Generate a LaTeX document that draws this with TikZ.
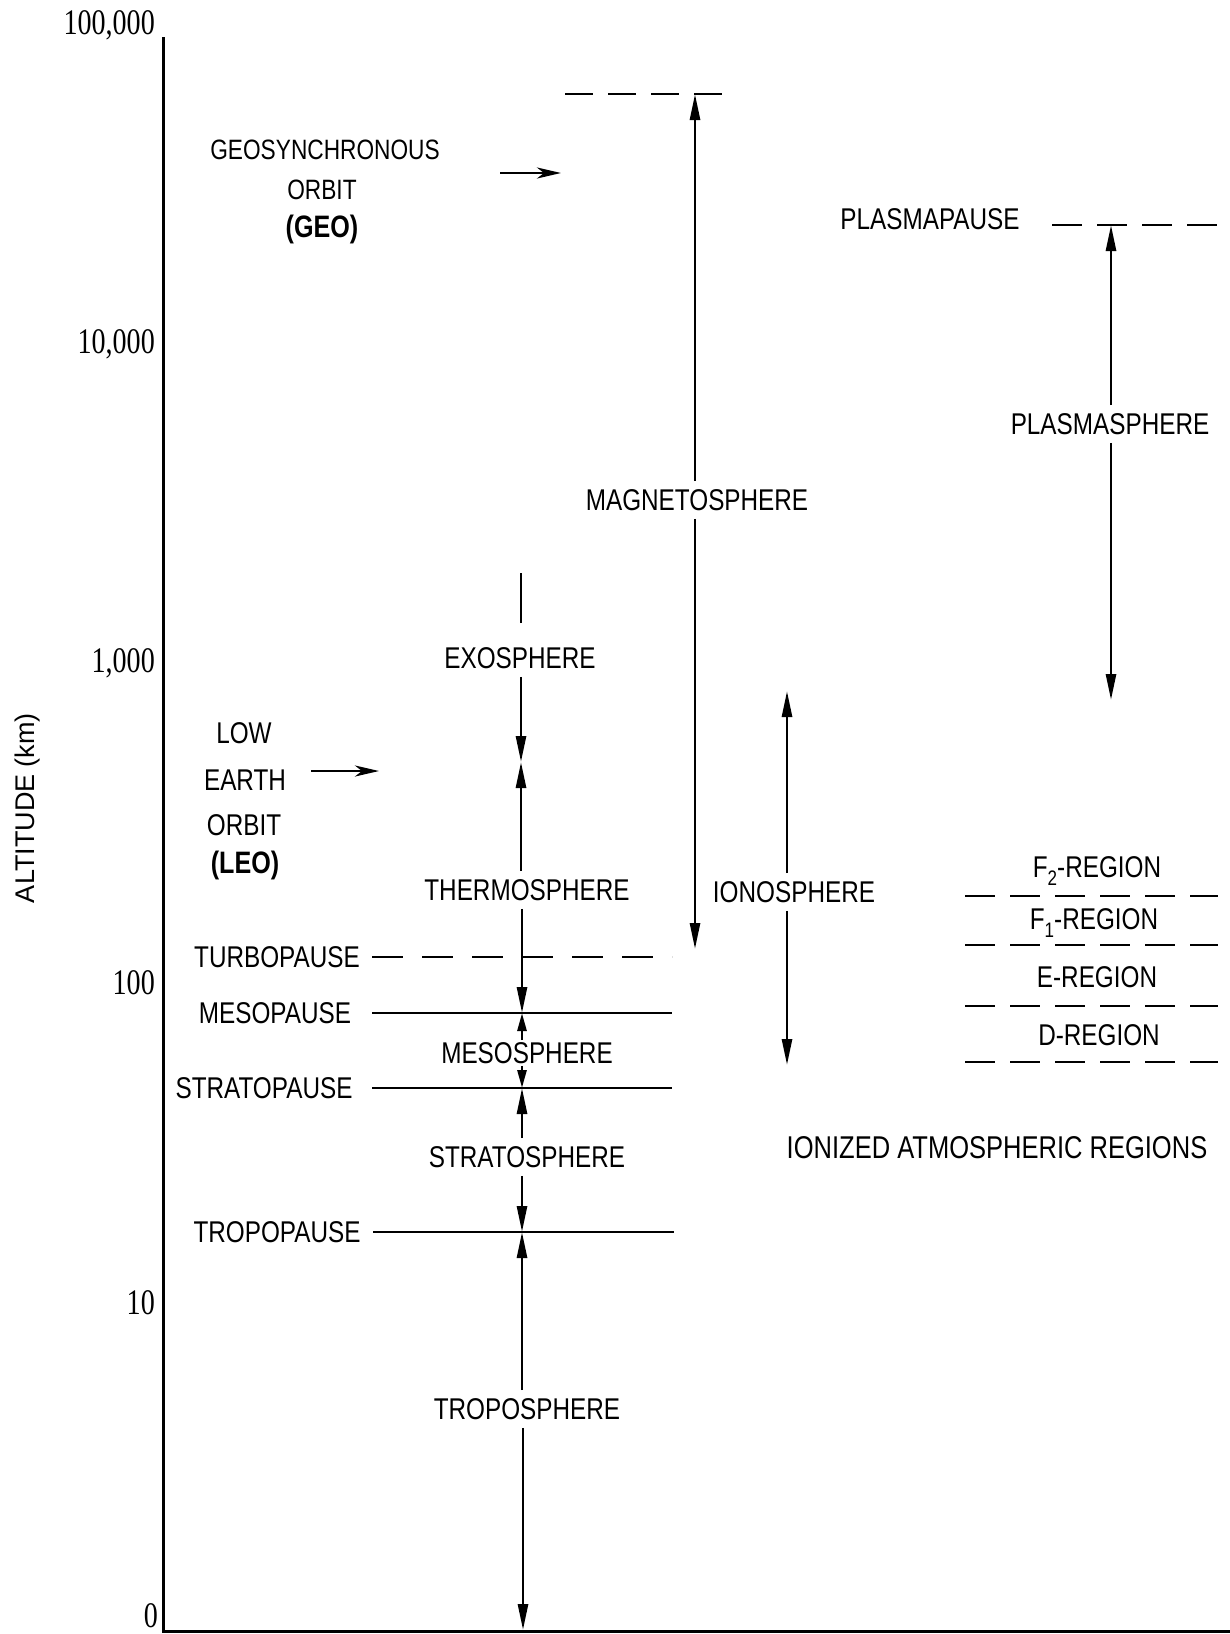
\documentclass[tikz,border=0pt]{standalone}
\usepackage{fontspec}
\setmainfont{Liberation Sans}[FakeStretch=0.81]
\newfontfamily\numfont{Liberation Serif}[FakeStretch=0.78]
\newfontfamily\plainsans{Liberation Sans}
\usetikzlibrary{arrows.meta}
\begin{document}
\begin{tikzpicture}[x=1pt,y=-1pt,
  lbl/.style={font=\fontsize{30}{34}\selectfont, inner xsep=3pt, inner ysep=8pt, align=center},
  glbl/.style={font=\fontsize{28}{32}\selectfont, inner sep=2pt},
  bld/.style={font=\fontsize{31}{35}\selectfont\bfseries, inner sep=2pt},
  num/.style={font=\numfont\fontsize{36}{36}\selectfont, anchor=east, inner sep=0pt},
  ln/.style={line width=2.7pt},
  dsh/.style={line width=2.7pt, dash pattern=on 30pt off 15pt},
  arr/.style={line width=2.7pt, -{Triangle[width=10pt,length=26pt]}},
  sarr/.style={line width=2.7pt, -{Triangle[width=9pt,length=18pt]}},
  harr/.style={line width=2.7pt, -{Stealth[width=11pt,length=24pt,inset=7pt]}}]
\useasboundingbox (0,0) rectangle (1230,1634);

% axes
\coordinate (ax0) at (163,37);
\coordinate (ax1) at (163,1631);
\coordinate (ax2) at (1230,1631);
\draw[line width=3pt] (ax0) -- (ax1) -- (ax2);

% tick labels
\node[num] (t5) at (155,25) {100,000};
\node[num] (t4) at (155,344) {10,000};
\node[num] (t3) at (155,663) {1,000};
\node[num] (t2) at (155,983) {100};
\node[num] (t1) at (155,1303) {10};
\node[num] (t0) at (158,1616) {0};
\node[rotate=90, font=\plainsans\fontsize{27}{27}\selectfont, inner sep=0pt] (ylab) at (28,808) {ALTITUDE (km)};

% GEO
\node[glbl] (geo1) at (325,150) {GEOSYNCHRONOUS};
\node[glbl] (geo2) at (322,190) {ORBIT};
\node[bld] (geo3) at (322,229) {(GEO)};
\coordinate (geoA) at (500,173);
\coordinate (geoB) at (561,173);
\draw[harr] (geoA) -- (geoB);

% LEO
\node[glbl, font=\fontsize{30}{34}\selectfont] (leo1) at (244,733) {LOW};
\node[glbl, font=\fontsize{30}{34}\selectfont] (leo2) at (245,780) {EARTH};
\node[glbl, font=\fontsize{30}{34}\selectfont] (leo3) at (244,825) {ORBIT};
\node[bld] (leo4) at (245,865) {(LEO)};
\coordinate (leoA) at (311,771);
\coordinate (leoB) at (379,771);
\draw[harr] (leoA) -- (leoB);

% magnetosphere
\coordinate (mgL) at (565,94);
\coordinate (mgR) at (727,94);
\coordinate (mgT) at (695,94);
\coordinate (mgB) at (695,949);
\draw[dsh, dash pattern=on 28pt off 15pt] (mgL) -- (mgR);
\node[lbl] (mag) at (697,500) {MAGNETOSPHERE};
\draw[arr] (mag.north -| mgT) -- (mgT);
\draw[arr] (mag.south -| mgB) -- (mgB);

% plasmasphere
\node[lbl] (ppause) at (930,219) {PLASMAPAUSE};
\coordinate (ppL) at (1052,225);
\coordinate (ppR) at (1218,225);
\draw[dsh] (ppL) -- (ppR);
\coordinate (psT) at (1111,225);
\coordinate (psB) at (1111,700);
\node[lbl] (psph) at (1110,424) {PLASMASPHERE};
\draw[arr] (psph.north -| psT) -- (psT);
\draw[arr] (psph.south -| psB) -- (psB);

% ionosphere
\coordinate (ioT) at (787,691);
\coordinate (ioB) at (787,1065);
\node[lbl] (iono) at (794,892) {IONOSPHERE};
\draw[arr] (iono.north -| ioT) -- (ioT);
\draw[arr] (iono.south -| ioB) -- (ioB);

% ionized regions
\node[lbl, text depth=0pt] (f2) at (1097,867) {F\raisebox{-8pt}{\fontsize{21}{21}\selectfont 2}-REGION};
\node[lbl, text depth=0pt] (f1) at (1094,919) {F\raisebox{-8pt}{\fontsize{21}{21}\selectfont 1}-REGION};
\node[lbl] (ereg) at (1097,977) {E-REGION};
\node[lbl] (dreg) at (1099,1035) {D-REGION};
\coordinate (r1L) at (965,896); \coordinate (r1R) at (1218,896);
\coordinate (r2L) at (965,945); \coordinate (r2R) at (1218,945);
\coordinate (r3L) at (965,1006); \coordinate (r3R) at (1218,1006);
\coordinate (r4L) at (965,1062); \coordinate (r4R) at (1218,1062);
\draw[dsh] (r1L) -- (r1R);
\draw[dsh] (r2L) -- (r2R);
\draw[dsh] (r3L) -- (r3R);
\draw[dsh] (r4L) -- (r4R);
\node[lbl, font=\fontsize{31.5}{35}\selectfont] (ionreg) at (997,1148) {IONIZED ATMOSPHERIC REGIONS};

% boundary labels and lines
\node[lbl] (turbo) at (277,957) {TURBOPAUSE};
\node[lbl] (mesop) at (275,1013) {MESOPAUSE};
\node[lbl] (stratop) at (264,1088) {STRATOPAUSE};
\node[lbl] (tropop) at (277,1232) {TROPOPAUSE};
\coordinate (tbL) at (372,957); \coordinate (tbR) at (672,957);
\coordinate (mpL) at (372,1013); \coordinate (mpR) at (672,1013);
\coordinate (spL) at (372,1088); \coordinate (spR) at (672,1088);
\coordinate (tpL) at (373,1232); \coordinate (tpR) at (674,1232);
\draw[ln, dash pattern=on 31pt off 19pt] (tbL) -- (tbR);
\draw[ln] (mpL) -- (mpR);
\draw[ln] (spL) -- (spR);
\draw[ln] (tpL) -- (tpR);

% layer column
\coordinate (exoTop) at (521,573);
\coordinate (exoA) at (521,623);
\coordinate (b500) at (521,762);
\coordinate (b80) at (522,1013);
\coordinate (b50) at (522,1088);
\coordinate (b15) at (522,1232);
\coordinate (b0) at (523,1630);
\node[lbl] (exo) at (520,658) {EXOSPHERE};
\node[lbl] (thermo) at (527,890) {THERMOSPHERE};
\node[lbl, inner ysep=2pt] (meso) at (527,1053) {MESOSPHERE};
\node[lbl] (strato) at (527,1157) {STRATOSPHERE};
\node[lbl] (tropo) at (527,1409) {TROPOSPHERE};
\draw[ln] (exoA) -- (exoTop);
\draw[arr] (exo.south -| b500) -- (b500);
\draw[arr] (thermo.north -| b500) -- (b500);
\draw[arr] (thermo.south -| b80) -- (b80);
\draw[sarr] (meso.north -| b80) -- (b80);
\draw[sarr] (meso.south -| b50) -- (b50);
\draw[arr] (strato.north -| b50) -- (b50);
\draw[arr] (strato.south -| b15) -- (b15);
\draw[arr] (tropo.north -| b15) -- (b15);
\draw[arr] (tropo.south -| b0) -- (b0);
\end{tikzpicture}
\end{document}
